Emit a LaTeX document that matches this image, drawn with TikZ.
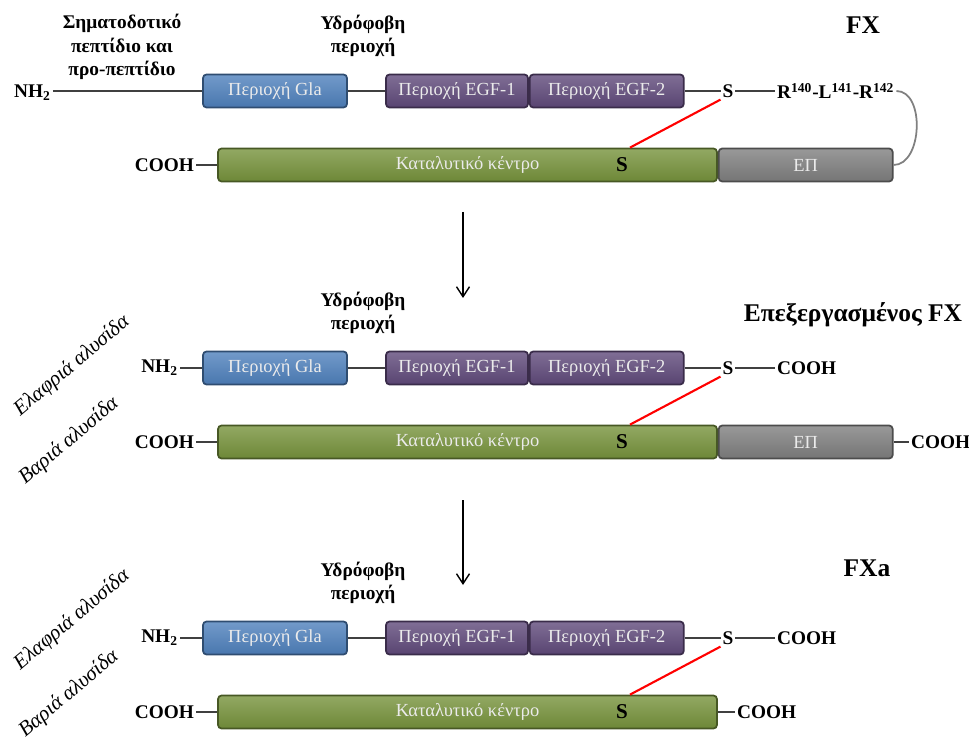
\documentclass[tikz,border=0pt]{standalone}
\usepackage{fontspec}
\setmainfont{Liberation Serif}
\usetikzlibrary{positioning, calc, arrows.meta}

\definecolor{glablue}{HTML}{4F81BD}
\definecolor{egfpurple}{HTML}{604A7B}
\definecolor{catgreen}{HTML}{77933C}
\definecolor{epgray}{HTML}{7F7F7F}

\begin{document}
\begin{tikzpicture}[
  x=0.02cm, y=-0.02cm,
  >={Straight Barb[length=2mm, width=2.6mm]},
  region/.style = {draw=#1!60!black, top color=#1!80!white, bottom color=#1!92!black,
                   rounded corners=2pt, line width=1pt, minimum height=0.66cm,
                   inner sep=0pt, text=white!92!black, font=\fontsize{10.5}{12}\selectfont},
  lbl/.style      = {font=\bfseries\fontsize{11}{13.5}\selectfont, inner sep=1pt},
  title/.style    = {font=\bfseries\fontsize{14.5}{17}\selectfont, inner sep=1pt},
  chainlbl/.style = {font=\itshape\fontsize{12}{14}\selectfont, rotate=40, inner sep=0pt},
  bond/.style     = {draw=black!75, line width=0.8pt},
]
  \useasboundingbox (0,0) rectangle (969,742);

  % common parts of the three forms
  \foreach \p/\yl/\yh in {1/91/165, 2/368/442, 3/638/712} {
    \node[region=glablue,   minimum width=2.88cm] (gla\p)  at (275,\yl) {Περιοχή Gla};
    \node[region=egfpurple, minimum width=2.84cm] (egfa\p) at (457,\yl) {Περιοχή EGF-1};
    \node[region=egfpurple, minimum width=3.08cm, right=0pt of egfa\p] (egfb\p) {Περιοχή EGF-2};
    \node[lbl] (sl\p) at (728,\yl) {S};
    \node[region=catgreen,  minimum width=9.98cm] (cat\p) at (467.5,\yh) {Καταλυτικό κέντρο};
    \node[lbl, font=\bfseries\fontsize{12}{14}\selectfont] (sh\p) at (622,\yh) {S};
    \node[lbl, anchor=east] (cl\p) at (196,\yh) {COOH};
    \node[lbl, align=center] (hyd\p) at (363,\yl-55) {Υδρόφοβη\\περιοχή};
    \draw[bond] (gla\p) -- (egfa\p);
    \draw[bond] (egfb\p) -- (sl\p);
    \draw[bond] (cl\p) -- (cat\p);
    \draw[red, line width=1.2pt] (sl\p.south west) -- (sh\p.east |- cat\p.north);
  }

  % FX
  \node[title] (fx) at (863,25) {FX};
  \node[lbl, align=center] (sig) at (122,47) {Σηματοδοτικό\\πεπτίδιο και\\προ-πεπτίδιο};
  \node[lbl, anchor=west] (nh1) at (12,93) {NH\textsubscript{2}};
  \draw[bond] (nh1.east |- gla1) -- (gla1);
  \node[lbl, anchor=west] (rlr) at (775,91) {R\textsuperscript{140}-L\textsuperscript{141}-R\textsuperscript{142}};
  \draw[bond] (sl1) -- (sl1 -| rlr.west);
  \node[region=epgray, minimum width=3.48cm, right=0pt of cat1] (ep1) {ΕΠ};
  \draw[draw=black!50, line width=1pt] (rlr.east) to[out=0, in=0] (ep1.east);

  % processed FX and FXa
  \node[title] (pfx) at (853,315) {Επεξεργασμένος FX};
  \node[title] (fxa) at (867,568) {FXa};
  \foreach \p/\yl/\ya/\yb in {2/368/366/441, 3/638/620/694} {
    \node[lbl, anchor=east] (nh\p) at (180,\yl) {NH\textsubscript{2}};
    \draw[bond] (nh\p.east |- gla\p) -- (gla\p);
    \node[lbl, anchor=west] (cs\p) at (775,\yl) {COOH};
    \draw[bond] (sl\p) -- (cs\p);
    \node[chainlbl] (light\p) at (72,\ya) {Ελαφριά αλυσίδα};
    \node[chainlbl] (heavy\p) at (69,\yb) {Βαριά αλυσίδα};
  }
  \node[region=epgray, minimum width=3.48cm, right=0pt of cat2] (ep2) {ΕΠ};
  \node[lbl, anchor=west] (ce2) at (909,442) {COOH};
  \draw[bond] (ep2) -- (ce2);
  \node[lbl, anchor=west] (ce3) at (735,712) {COOH};
  \draw[bond] (cat3) -- (ce3);

  \coordinate (a1) at (463,212);
  \coordinate (b1) at (463,298);
  \coordinate (a2) at (463,500);
  \coordinate (b2) at (463,585);
  \draw[->, line width=0.8pt] (a1) -- (b1);
  \draw[->, line width=0.8pt] (a2) -- (b2);
\end{tikzpicture}
\end{document}
